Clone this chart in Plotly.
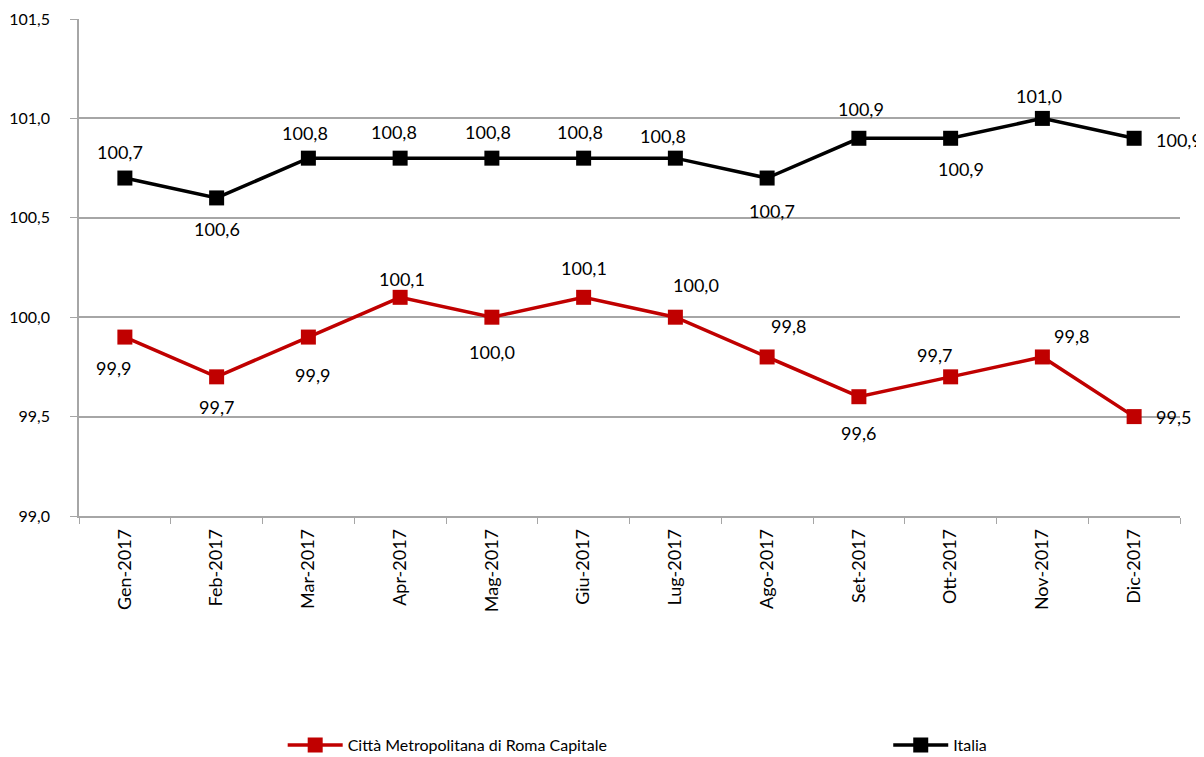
import plotly.graph_objects as go

months = ["Gen-2017", "Feb-2017", "Mar-2017", "Apr-2017", "Mag-2017", "Giu-2017",
          "Lug-2017", "Ago-2017", "Set-2017", "Ott-2017", "Nov-2017", "Dic-2017"]
roma = [99.9, 99.7, 99.9, 100.1, 100.0, 100.1, 100.0, 99.8, 99.6, 99.7, 99.8, 99.5]
italia = [100.7, 100.6, 100.8, 100.8, 100.8, 100.8, 100.8, 100.7, 100.9, 100.9, 101.0, 100.9]
y_ticks = [99.0, 99.5, 100.0, 100.5, 101.0, 101.5]

# label offsets in screen pixels (dx right, dy down) relative to each point
roma_off = [(-11, 31), (0, 30), (4, 38), (2, -18), (0, 35), (0, -29),
            (21, -32), (21, -31), (0, 36), (-16, -22), (29, -21), (39, 0)]
italia_off = [(-5, -26), (0, 31), (-3, -25), (-6, -26), (-4, -26), (-4, -26),
              (-12, -22), (5, 33), (2, -29), (10, 31), (-3, -22), (45, 2)]

FONT = "Lato, 'Open Sans', sans-serif"
GRID = "#A6A6A6"
RED = "#C00000"


def fmt(v):
    return f"{v:.1f}".replace(".", ",")


fig = go.Figure()
fig.add_trace(go.Scatter(
    x=months, y=roma, name="Città Metropolitana di Roma Capitale",
    mode="lines+markers", cliponaxis=False, legend="legend",
    line=dict(color=RED, width=3.5),
    marker=dict(symbol="square", size=15, color=RED),
))
fig.add_trace(go.Scatter(
    x=months, y=italia, name="Italia",
    mode="lines+markers", cliponaxis=False, legend="legend2",
    line=dict(color="#000000", width=3.5),
    marker=dict(symbol="square", size=15, color="#000000"),
))

for series, offs in ((roma, roma_off), (italia, italia_off)):
    for m, v, (dx, dy) in zip(months, series, offs):
        fig.add_annotation(
            x=m, y=v, text=fmt(v), showarrow=False,
            xanchor="center", yanchor="middle",
            xshift=dx, yshift=-dy,
            font=dict(size=18, color="#000000", family=FONT),
        )

leg_common = dict(orientation="h", yanchor="middle", y=-0.461, xanchor="left",
                  font=dict(size=16, family=FONT, color="#000000"),
                  itemwidth=55, bgcolor="rgba(0,0,0,0)")

fig.update_layout(
    width=1196, height=749,
    paper_bgcolor="white", plot_bgcolor="white",
    margin=dict(l=71, r=24, t=11, b=241, autoexpand=False),
    font=dict(family=FONT, size=16, color="#000000"),
    showlegend=True,
    legend=dict(x=0.185, **leg_common),
    legend2=dict(x=0.735, **leg_common),
    xaxis=dict(
        type="category", range=[-0.5, 11.5], tickangle=-90, automargin=False,
        tickson="boundaries", ticks="outside", ticklen=6, tickcolor=GRID,
        showline=True, linecolor=GRID, linewidth=1.5, showgrid=False,
        tickfont=dict(size=18, family=FONT), ticklabelstandoff=4,
    ),
    yaxis=dict(
        range=[99.0, 101.5], tickvals=y_ticks, ticktext=[fmt(t) for t in y_ticks],
        automargin=False,
        ticks="outside", ticklen=7, tickcolor=GRID,
        showline=True, linecolor=GRID, linewidth=1.5,
        showgrid=True, gridcolor=GRID, gridwidth=1.5, zeroline=False,
        tickfont=dict(size=16, family=FONT), ticklabelstandoff=17,
    ),
)

fig.write_html("out.html")
